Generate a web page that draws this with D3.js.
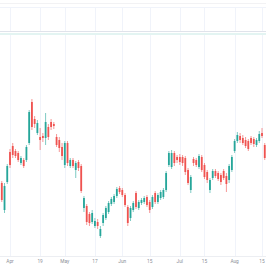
<!DOCTYPE html>
<html>
<head>
<meta charset="utf-8">
<script src="https://cdn.jsdelivr.net/npm/d3@7"></script>
<style>
  html, body { margin: 0; padding: 0; background: #fff; }
  svg { display: block; }
</style>
</head>
<body>
<div id="chart"></div>
<script>
// trading days, Mar 28 - Aug 16 2022 (weekends + market holidays skipped)
var firstDay = '2022-03-28'
var lastDay = '2022-08-16'
var holidays = ['2022-04-15', '2022-05-30', '2022-06-20', '2022-07-04']

var open  = [61,58.5,45,59,74,77,74.5,73.5,68.5,70,70,78.5,99,90.5,83.5,81.5,82,81,86.5,89,88,81.5,80,76.5,67.5,78.5,67,70,65,69,67,46,47,43,39,37,39,32,38.5,41,44,48,49,52,56,55,52.5,46.5,41,45,53.5,46,48.5,49,51.5,49,46.5,53.5,49,51,51.5,55,67.5,66.5,73.5,71.5,71.5,71.5,71,65,55,70.5,70,66.5,71.5,67.5,64,55,61,64.5,63.5,62.5,64.5,62,60,65,74.5,79.5,82,81,80,79.5,81,80.5,77.5,79.5,83.5,77.5]
var high  = [62,59.5,58.5,68,75.5,78.5,75.5,74.5,72,71,77.5,95,100.5,92,90,86,83.5,93.5,88,90.5,89,83,81.5,78.5,79.5,79.5,71,71,69.5,70,68,52,48,44,45,41,40.5,37,43.5,47,49.5,51.5,53,56.5,57,56,53.5,47.5,47,49.5,54.5,50,51,52,52.5,50,52.5,54.5,53.5,55,56,64.5,74.5,75,74.5,72.5,73,72.5,72,66,62.5,71.5,71,73,72.5,68.5,65,61,65.5,65.5,64.5,63.5,65.5,63.5,68,72.5,80.5,84,83.5,82.5,81.5,80.5,82,81.5,81,84.5,86,78.5]
var low   = [53,49,43.5,58,66,71,71,69,67.5,66,69,77.5,85,86,82.5,75,79,77.5,80,85,85.5,76.5,74,70,66,67,66,66,61,64.5,53.5,44,37.5,37,38,36,35.5,31,37,40,43,47,48,51,53,51.5,46.5,37,39.5,44,45.5,45,47.5,48,46.5,43.5,45.5,48,48,50,50.5,54,66.5,65.5,67,68.5,67.5,67,62.5,57.5,53.5,67,66.5,65.5,64,60.5,58.5,53.5,60,61,59.5,57.5,60,54,58.5,64,73.5,78.5,78.5,77.5,76,74.5,77.5,76.5,76.5,78.5,81,70]
var close = [54,50,57,67,67.5,72.5,72,70,71,67,76.5,94,86.5,88,88.5,80,81,89,81.5,86.5,87,77.5,76,72,78.5,68.5,70,67,68.5,66,54.5,51,39,38.5,43.5,39.5,37,35.5,42.5,46,48.5,50.5,52,55.5,54,52.5,47.5,38.5,46,48.5,46.5,49,50,51,47.5,45,51.5,49,52.5,54,55,63.5,73.5,73.5,68.5,70,69,68.5,64,58.5,61.5,68.5,67.5,72,65,61.5,60,60,64.5,62,60.5,59,61,58,67,71.5,79.5,82.5,80,78.5,77,75.5,78.5,78,80,83,82,71]

var tickDays   = ['2022-04-01','2022-04-19','2022-05-02','2022-05-17','2022-06-01','2022-06-15','2022-07-01','2022-07-15','2022-08-01','2022-08-15']
var tickLabels = ['Apr','19','May','17','Jun','15','Jul','15','Aug','15']

var width = 266, height = 266
var upCol = '#26a69a', downCol = '#ef5350', gridCol = '#f0f3fa'

// build day list
var fmt = d3.utcFormat('%Y-%m-%d')
var days = d3.utcDays(new Date(firstDay), d3.utcDay.offset(new Date(lastDay), 1))
    .filter(d => d.getUTCDay() != 0 && d.getUTCDay() != 6)
    .map(fmt)
    .filter(d => !holidays.includes(d))

var bars = days.map((d, i) => ({date: d, i: i, o: open[i], h: high[i], l: low[i], c: close[i]}))

var x = d3.scaleLinear()
    .domain([days.indexOf('2022-04-01'), days.indexOf('2022-08-15')])
    .range([10, 262])
var y = d3.scaleLinear().domain([0, 150]).range([300, 0])

var paneTop = 34, paneBot = 256

var svg = d3.select('#chart').append('svg')
    .attr('width', width)
    .attr('height', height)

svg.append('rect').attr('width', width).attr('height', height).attr('fill', '#fff')

// upper pane
svg.append('line').attr('x1', 0).attr('x2', width).attr('y1', 3.5).attr('y2', 3.5)
    .attr('stroke', '#f2f2f4').attr('stroke-width', 1)
svg.append('line').attr('x1', 0).attr('x2', width).attr('y1', 7.5).attr('y2', 7.5)
    .attr('stroke', gridCol).attr('stroke-width', 1)

var tickIdx = tickDays.map(d => days.indexOf(d))

svg.append('g')
    .selectAll('line')
    .data(tickIdx)
    .join('line')
    .attr('x1', d => Math.round(x(d)) + 0.5)
    .attr('x2', d => Math.round(x(d)) + 0.5)
    .attr('y1', 7)
    .attr('y2', 31)
    .attr('stroke', gridCol)

// pane separator
svg.append('line').attr('x1', 0).attr('x2', width).attr('y1', 31.5).attr('y2', 31.5)
    .attr('stroke', '#e0e3eb')
svg.append('rect').attr('x', 0).attr('width', width).attr('y', 33).attr('height', 2)
    .attr('fill', '#e3f4f2')

// main pane grid
svg.append('g')
    .selectAll('line')
    .data(tickIdx)
    .join('line')
    .attr('x1', d => Math.round(x(d)) + 0.5)
    .attr('x2', d => Math.round(x(d)) + 0.5)
    .attr('y1', paneTop + 1)
    .attr('y2', paneBot)
    .attr('stroke', gridCol)

svg.append('defs').append('clipPath').attr('id', 'clip')
    .append('rect').attr('x', 0).attr('y', paneTop + 1).attr('width', width).attr('height', paneBot - paneTop - 1)

var candles = svg.append('g').attr('clip-path', 'url(#clip)')
    .selectAll('g')
    .data(bars)
    .join('g')

candles.append('line')
    .attr('x1', d => x(d.i))
    .attr('x2', d => x(d.i))
    .attr('y1', d => y(d.h))
    .attr('y2', d => y(d.l))
    .attr('stroke', d => d.c >= d.o ? upCol : downCol)
    .attr('stroke-width', 0.6)

candles.append('rect')
    .attr('x', d => x(d.i) - 0.9)
    .attr('width', 1.8)
    .attr('y', d => y(Math.max(d.o, d.c)))
    .attr('height', d => Math.max(0.6, Math.abs(y(d.o) - y(d.c))))
    .attr('fill', d => d.c >= d.o ? upCol : downCol)

// time axis
svg.append('line').attr('x1', 0).attr('x2', width).attr('y1', paneBot + 0.5).attr('y2', paneBot + 0.5)
    .attr('stroke', '#eceef2')

svg.append('g')
    .attr('font-family', 'Roboto, sans-serif')
    .attr('font-size', 4.8)
    .attr('fill', '#8c8f98')
    .selectAll('text')
    .data(tickIdx)
    .join('text')
    .attr('x', d => x(d))
    .attr('y', 263)
    .attr('text-anchor', 'middle')
    .text((d, i) => tickLabels[i])
</script>
</body>
</html>
